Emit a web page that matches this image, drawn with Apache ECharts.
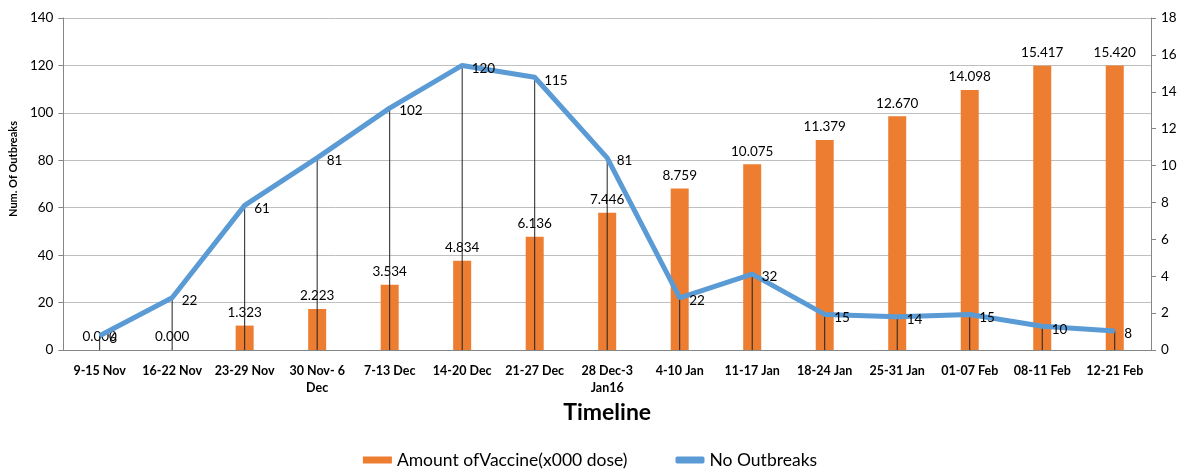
<!DOCTYPE html>
<html>
<head>
<meta charset="utf-8">
<script src="https://cdn.jsdelivr.net/npm/echarts@6/dist/echarts.min.js"></script>
<style>
  html, body { margin: 0; padding: 0; background: #fff; }
  #main { width: 1180px; height: 469px; }
</style>
</head>
<body>
<div id="main"></div>
<script>
var categories = ['9-15 Nov', '16-22 Nov', '23-29 Nov', '30 Nov- 6\nDec', '7-13 Dec', '14-20 Dec', '21-27 Dec',
    '28 Dec-3\nJan16', '4-10 Jan', '11-17 Jan', '18-24 Jan', '25-31 Jan', '01-07 Feb', '08-11 Feb', '12-21 Feb'];
var vaccine = [0.000, 0.000, 1.323, 2.223, 3.534, 4.834, 6.136, 7.446, 8.759, 10.075, 11.379, 12.670, 14.098, 15.417, 15.420];
var outbreaks = [6, 22, 61, 81, 102, 120, 115, 81, 22, 32, 15, 14, 15, 10, 8];

var dom = document.getElementById('main');
var myChart = echarts.init(dom);
var font = 'Lato, "Open Sans", sans-serif';

var option = {
    animation: false,
    textStyle: { fontFamily: font },
    grid: { left: 61, right: 29, top: 18, bottom: 119 },
    legend: {
        top: 446,
        left: 'center',
        itemGap: 48,
        itemWidth: 29,
        itemHeight: 7,
        textStyle: { fontSize: 17.5, color: '#000', fontFamily: font },
        data: [
            { name: 'Amount ofVaccine(x000 dose)', icon: 'rect' },
            { name: 'No Outbreaks', icon: 'roundRect' }
        ]
    },
    xAxis: {
        type: 'category',
        data: categories,
        name: 'Timeline',
        nameLocation: 'middle',
        nameGap: 51,
        nameTextStyle: { fontSize: 23, fontWeight: 'bold', color: '#000' },
        axisLine: { lineStyle: { color: '#868686' } },
        axisTick: { show: false },
        axisLabel: { interval: 0, fontSize: 12.5, fontWeight: 'bold', color: '#000', margin: 12, lineHeight: 17 }
    },
    yAxis: [
        {
            type: 'value',
            min: 0, max: 140, interval: 20,
            name: 'Num. Of Outbreaks',
            nameLocation: 'middle',
            nameGap: 43,
            nameTextStyle: { fontSize: 11, fontWeight: 'bold', color: '#000', padding: [0, 0, 0, 30] },
            axisLine: { show: true, lineStyle: { color: '#868686' } },
            axisTick: { show: true, length: 5, lineStyle: { color: '#868686' } },
            axisLabel: { fontSize: 13.5, color: '#000', margin: 10 },
            splitLine: { lineStyle: { color: '#bfbfbf' } }
        },
        {
            type: 'value',
            min: 0, max: 18, interval: 2,
            axisLine: { show: true, lineStyle: { color: '#868686' } },
            axisTick: { show: true, length: 5, lineStyle: { color: '#868686' } },
            axisLabel: { fontSize: 13.5, color: '#000', margin: 10 },
            splitLine: { show: false }
        }
    ],
    series: [
        {
            name: 'Amount ofVaccine(x000 dose)',
            type: 'bar',
            yAxisIndex: 1,
            barWidth: 18,
            data: vaccine,
            itemStyle: { color: '#ED7D31' },
            label: {
                show: true,
                position: 'top',
                distance: 6,
                fontSize: 13.5,
                color: '#000',
                formatter: function (p) { return p.value.toFixed(3); }
            },
            z: 2
        },
        {
            name: 'drop',
            type: 'custom',
            yAxisIndex: 0,
            data: outbreaks.map(function (v, i) { return [i, v]; }),
            renderItem: function (params, api) {
                var top = api.coord([api.value(0), api.value(1)]);
                var bottom = api.coord([api.value(0), 0]);
                return {
                    type: 'line',
                    shape: { x1: top[0], y1: top[1], x2: bottom[0], y2: bottom[1] },
                    style: { stroke: '#222', lineWidth: 1 }
                };
            },
            z: 3,
            silent: true
        },
        {
            name: 'No Outbreaks',
            type: 'line',
            yAxisIndex: 0,
            data: outbreaks,
            symbol: 'circle',
            symbolSize: 1,
            showSymbol: true,
            lineStyle: { color: '#5B9BD5', width: 5 },
            itemStyle: { color: '#5B9BD5' },
            label: {
                show: true,
                position: 'right',
                distance: 9,
                fontSize: 13.5,
                color: '#000',
                offset: [0, 3]
            },
            z: 4
        }
    ]
};

if (option && typeof option === "object") {
    myChart.setOption(option, true);
}
</script>
</body>
</html>
